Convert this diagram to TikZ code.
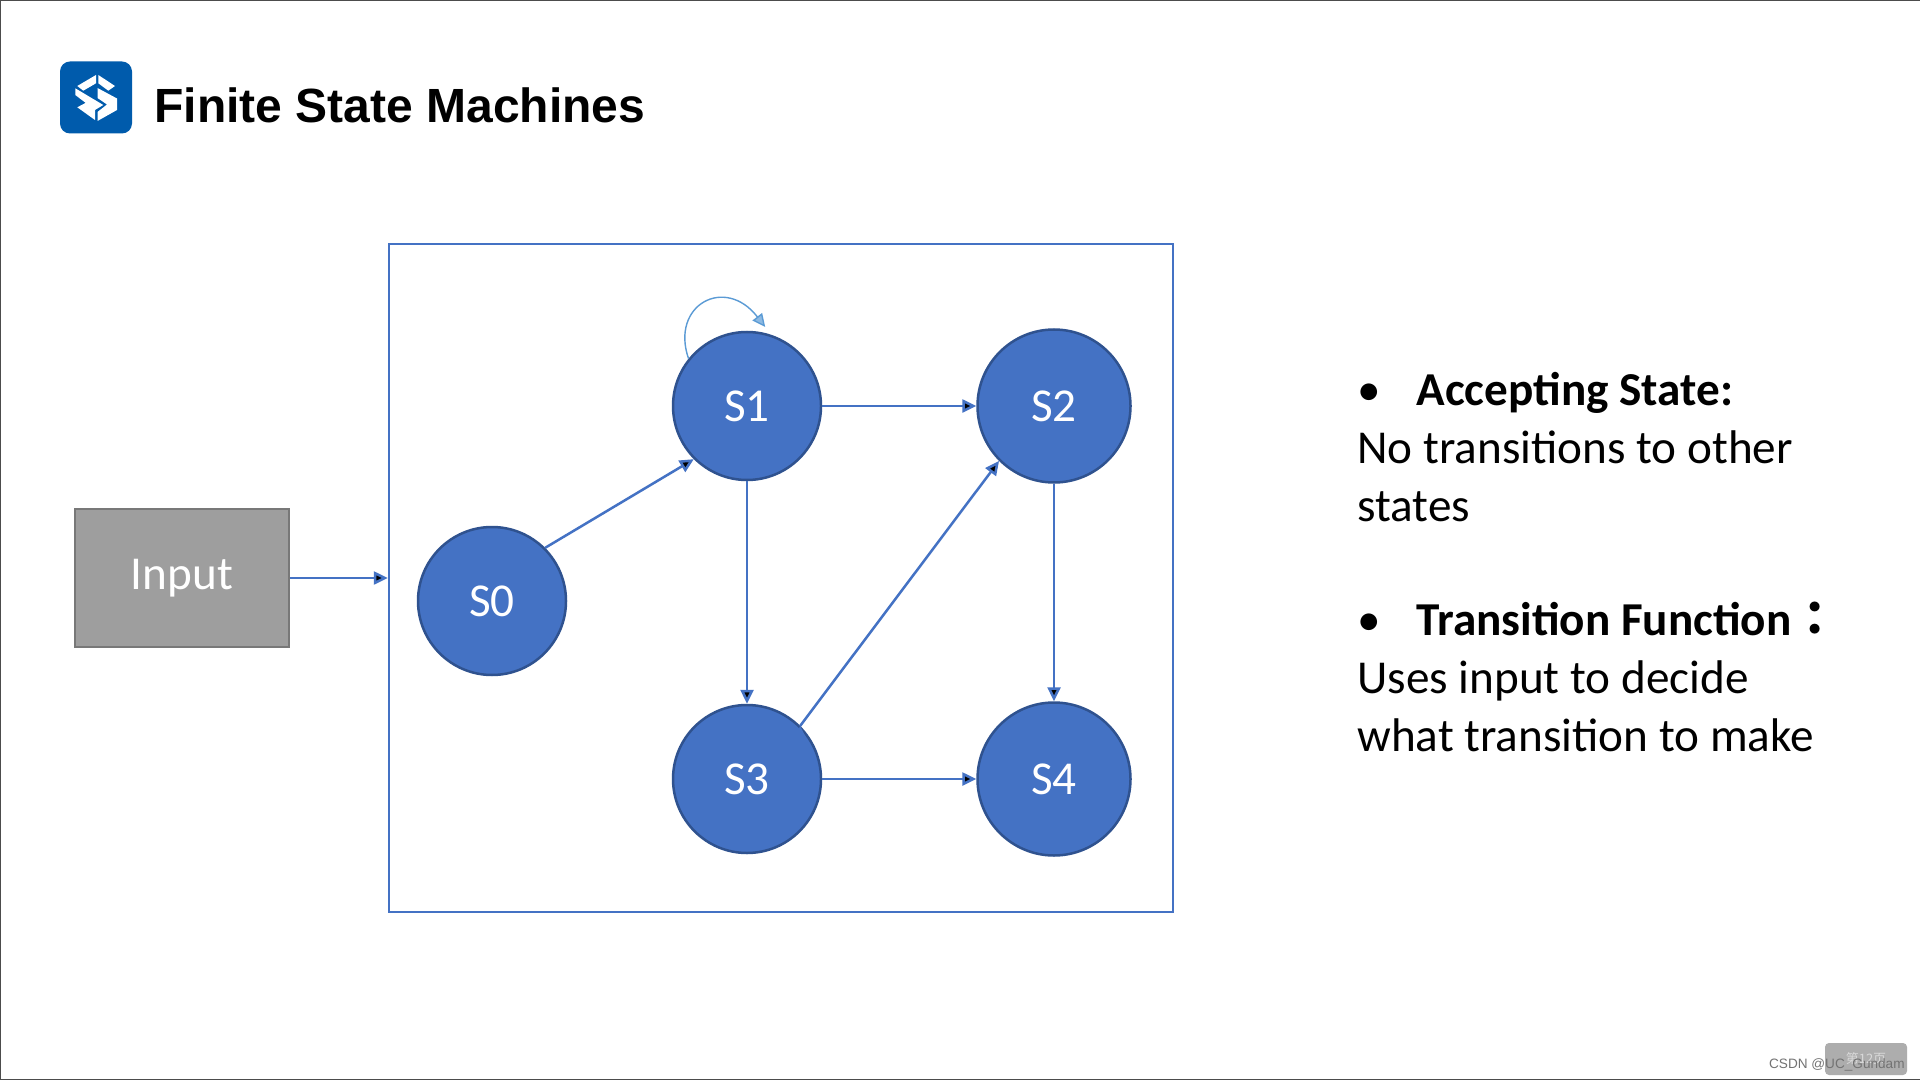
\documentclass[tikz,border=0pt]{standalone}
\usepackage{fontspec}
\setmainfont{Carlito}
\newfontfamily\arialfont{Liberation Sans}
\newfontfamily\cjk{Noto Sans CJK JP}
\newfontfamily\cjksc{Noto Sans CJK SC}
\usetikzlibrary{positioning,arrows.meta}
\definecolor{stateblue}{HTML}{4472C4}
\definecolor{stateline}{HTML}{2F528F}
\definecolor{loopblue}{HTML}{5B9BD5}
\definecolor{logoblue}{HTML}{005BAC}
\tikzset{
    statetext/.style={text=white,font=\fontsize{23.6}{28}\selectfont},
    statenode/.style={circle,draw=stateline,fill=stateblue,line width=1.25pt,inner sep=0pt,statetext},
    flow/.style={draw=stateblue,line width=1.25pt,-{Triangle[length=7pt,width=6.5pt]}},
    notes/.style={anchor=north west,align=left,inner sep=0pt,font=\fontsize{23.6}{29}\selectfont}
}
\begin{document}
\begin{tikzpicture}[x=0.5pt,y=-0.5pt]
    \useasboundingbox (0,0) rectangle (1920,1080);
    \fill[white] (0,0) rectangle (1920,1080);
    \draw[line width=1.2pt,black!70] (1920,0) -- (0,0) -- (0,1080) -- (1920,1080);
    % header
    \node[fill=logoblue,rounded corners=5pt,minimum size=36pt,inner sep=0pt](logo) at (96,97.5){};
    \fill[white] (96,75) -- (77.3,86) -- (83.3,90.7) -- (96,83.3) -- cycle
                 (98.3,75) -- (115,86) -- (108.3,90.7) -- (98.3,83.3) -- cycle
                 (75.3,88.3) -- (103.3,105) -- (95,110) -- (75.3,95) -- cycle
                 (97.5,88) -- (117,98.5) -- (117,110) -- (97.5,121) -- (97.5,112) -- (107,104.5) -- (97.5,98) -- cycle
                 (77.3,107.3) -- (86,102.7) -- (95,109.3) -- (95,120) -- cycle;
    \node[anchor=base west,inner sep=0pt,font=\arialfont\bfseries\fontsize{24}{28}\selectfont](title) at (154,123){Finite State Machines};
    % machine
    \node[draw=stateblue,line width=1.25pt,minimum width=392pt,minimum height=334pt,inner sep=0pt](machine) at (781,578){};
    \node[draw=black!53,fill=black!38,line width=1.25pt,minimum width=107pt,minimum height=69pt,inner sep=0pt,statetext](input) at (182,578){Input};
    \node[statenode,minimum size=74pt](s1) at (747,406){S1};
    \node[statenode,minimum size=76.5pt,on grid](s2)[right=153.5pt of s1]{S2};
    \node[statenode,minimum size=74pt,on grid](s3)[below=186.5pt of s1]{S3};
    \node[statenode,minimum size=76.5pt,on grid](s4)[right=153.5pt of s3]{S4};
    \node[statenode,minimum size=74pt](s0) at (492,601){S0};
    \coordinate (loopend) at ([yshift=3pt]s1.76);
    \path[flow] (input) edge (machine.west)
                (s0.45) edge (s1.225)
                (s1) edge (s2)
                     edge (s3)
                (s3.45) edge (s2.225)
                (s2) edge (s4)
                (s3) edge (s4);
    \draw[loopblue,line width=0.7pt,-{Triangle[length=6.5pt,width=6pt,fill=loopblue!70]}] (s1.141) .. controls (670,305) and (725,275) .. (loopend);
    % text on the right
    \node[notes](accepting) at (1357,372){\makebox[29.5pt][l]{\textbullet}\textbf{Accepting State:}\\No transitions to other\\states};
    \node[notes](transition) at (1357,602){\makebox[29.5pt][l]{\textbullet}\textbf{Transition Function}{\cjk\bfseries ：}\\Uses input to decide\\what transition to make};
    % footer
    \node[fill=black!32,rounded corners=2pt,minimum width=41pt,minimum height=16pt,inner sep=0pt,text=white!85!black,font=\cjksc\fontsize{6.5}{8}\selectfont](page) at (1866,1059){第12页};
    \node[anchor=base east,inner sep=0pt,text=black!55,font=\arialfont\fontsize{6.8}{8}\selectfont](mark) at (1905,1068){CSDN @UC\_Gundam};
\end{tikzpicture}
\end{document}
